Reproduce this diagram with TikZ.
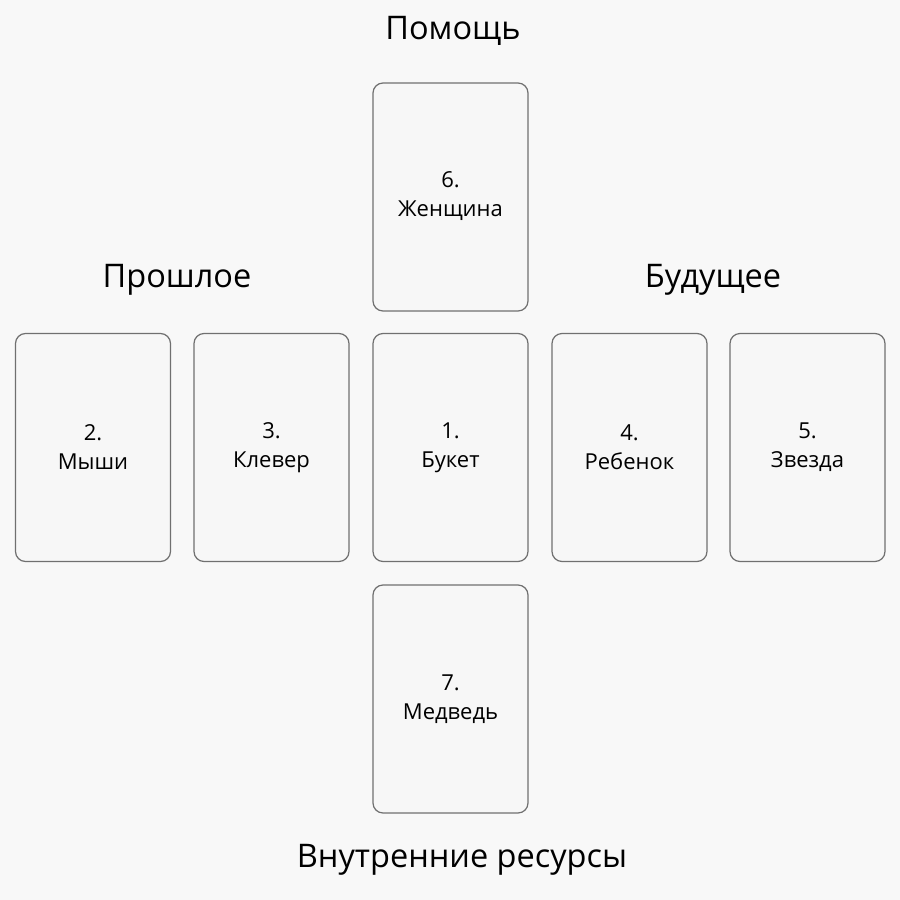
\documentclass[tikz,border=0pt]{standalone}
\usepackage{fontspec}
\setmainfont{Open Sans}
\definecolor{bg}{HTML}{F8F8F8}
\definecolor{cardfill}{HTML}{F7F7F7}
\definecolor{cardedge}{HTML}{707070}
\begin{document}
\begin{tikzpicture}[x=1pt,y=-1pt,
  card/.style={draw=cardedge,fill=cardfill,line width=1.2pt,rounded corners=10pt,minimum width=155pt,minimum height=228pt,inner sep=0pt},
  cardtext/.style={align=center,font=\fontsize{22}{29}\selectfont,text=black},
  heading/.style={font=\fontsize{32.5}{38}\selectfont,text=black}]
\fill[bg] (0,0) rectangle (900,900);
\useasboundingbox (0,0) rectangle (900,900);
% cards
\node[card] (c6) at (450.5,197) {};
\node[card] (c2) at (93,447.5) {};
\node[card] (c3) at (271.5,447.5) {};
\node[card] (c1) at (450.5,447.5) {};
\node[card] (c4) at (629.5,447.5) {};
\node[card] (c5) at (807.5,447.5) {};
\node[card] (c7) at (450.5,699) {};
% card texts
\node[cardtext] (t6) at ([yshift=1pt]c6.center) {6.\\Женщина};
\node[cardtext] (t2) at (c2.center) {2.\\Мыши};
\node[cardtext] (t3) at (c3.center) {3.\\Клевер};
\node[cardtext] (t1) at (c1.center) {1.\\Букет};
\node[cardtext] (t4) at (c4.center) {4.\\Ребенок};
\node[cardtext] (t5) at (c5.center) {5.\\Звезда};
\node[cardtext] (t7) at (c7.center) {7.\\Медведь};
% headings
\node[heading] (h1) at (453,31) {Помощь};
\node[heading] (h2) at (177,280) {Прошлое};
\node[heading] (h3) at (713,280) {Будущее};
\node[heading] (h4) at (462,860) {Внутренние ресурсы};
\end{tikzpicture}
\end{document}
